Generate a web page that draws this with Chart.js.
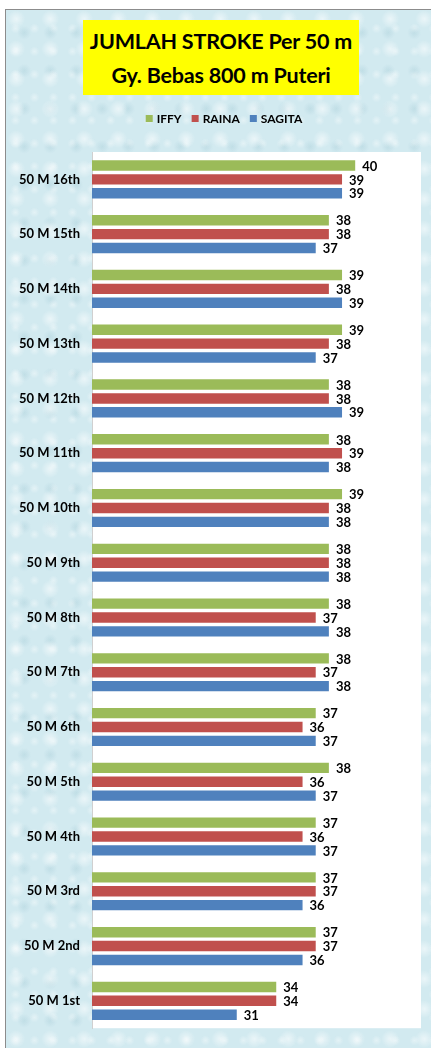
<!DOCTYPE html>
<html>
<head>
<meta charset="utf-8">
<script src="https://cdn.jsdelivr.net/npm/chart.js@4.4.1/dist/chart.umd.min.js"></script>
<style>
	body { margin: 0; width: 431px; height: 1048px; background: #fff; position: relative; overflow: hidden; }
	#frame {
		position: absolute; left: 5px; top: 9px; width: 426px; height: 1039px;
		border-left: 1px solid #8c8c8c; border-top: 1px solid #8c8c8c;
		background-color: #d2eaf0;
		background-image:
			radial-gradient(circle at 30% 30%, rgba(255,255,255,0.55) 0, rgba(255,255,255,0) 9px),
			radial-gradient(circle at 70% 60%, rgba(160,200,212,0.35) 0, rgba(160,200,212,0) 7px),
			radial-gradient(circle at 50% 80%, rgba(255,255,255,0.4) 0, rgba(255,255,255,0) 5px);
		background-size: 34px 30px, 26px 38px, 19px 23px;
	}
	#title {
		position: absolute; left: 83px; top: 20px; width: 276px; height: 75px;
		background: #ffff00; color: #000;
		font-family: Lato, sans-serif; font-weight: bold; font-size: 21.5px;
		line-height: 34px; text-align: center; padding-top: 4px; box-sizing: border-box;
		white-space: nowrap; letter-spacing: -0.2px;
	}
	canvas { position: absolute; left: 0; top: 0; }
</style>
</head>
<body>
<div id="frame"></div>
<div id="title">JUMLAH STROKE Per 50 m<br>Gy. Bebas 800 m Puteri</div>
<canvas id="strokeChart" width="431" height="1048"></canvas>
<script>
// Data (top row = 16th lap)
const categories = [
	'50 M 16th', '50 M 15th', '50 M 14th', '50 M 13th',
	'50 M 12th', '50 M 11th', '50 M 10th', '50 M 9th',
	'50 M 8th', '50 M 7th', '50 M 6th', '50 M 5th',
	'50 M 4th', '50 M 3rd', '50 M 2nd', '50 M 1st',
];
const iffy = [40, 38, 39, 39, 38, 38, 39, 38, 38, 38, 37, 38, 37, 37, 37, 34];
const raina = [39, 38, 38, 38, 38, 39, 38, 38, 37, 37, 36, 36, 36, 37, 37, 34];
const sagita = [39, 37, 39, 37, 39, 38, 38, 38, 38, 38, 37, 37, 37, 36, 36, 31];

const FONT = 'Lato, sans-serif';

// White plot area behind the bars
const plotBackground = {
	id: 'plotBackground',
	beforeDraw(chart) {
		const { ctx, chartArea: a } = chart;
		ctx.save();
		ctx.fillStyle = '#ffffff';
		ctx.fillRect(a.left, a.top, a.right - a.left, a.bottom - a.top);
		ctx.restore();
	},
};

// Value labels at the end of each bar
const barValues = {
	id: 'barValues',
	afterDatasetsDraw(chart) {
		const ctx = chart.ctx;
		ctx.save();
		ctx.font = 'bold 13px ' + FONT;
		ctx.fillStyle = '#000';
		ctx.textAlign = 'left';
		ctx.textBaseline = 'middle';
		chart.data.datasets.forEach((ds, i) => {
			chart.getDatasetMeta(i).data.forEach((bar, j) => {
				ctx.fillText(ds.data[j], bar.x + 7, bar.y + 1);
			});
		});
		ctx.restore();
	},
};

// Legend drawn above the plot, centred
const topLegend = {
	id: 'topLegend',
	afterDraw(chart) {
		const ctx = chart.ctx;
		const y = 119;
		ctx.save();
		ctx.font = 'bold 12px ' + FONT;
		ctx.textBaseline = 'middle';
		const items = chart.data.datasets.map((ds) => ({
			text: ds.label,
			color: ds.backgroundColor,
			w: 7 + 4 + ctx.measureText(ds.label).width,
		}));
		const gap = 10;
		const total = items.reduce((s, it) => s + it.w, 0) + gap * (items.length - 1);
		let x = 224 - total / 2;
		items.forEach((it) => {
			ctx.fillStyle = it.color;
			ctx.fillRect(x, y - 4, 7, 7);
			ctx.fillStyle = '#000';
			ctx.fillText(it.text, x + 11, y);
			x += it.w + gap;
		});
		ctx.restore();
	},
};

const ctx = document.getElementById('strokeChart').getContext('2d');
const strokeChart = new Chart(ctx, {
	type: 'bar',
	data: {
		labels: categories,
		datasets: [
			{ label: 'IFFY', data: iffy, backgroundColor: '#9bbb59' },
			{ label: 'RAINA', data: raina, backgroundColor: '#c0504d' },
			{ label: 'SAGITA', data: sagita, backgroundColor: '#4f81bd' },
		],
	},
	options: {
		indexAxis: 'y',
		responsive: false,
		animation: false,
		devicePixelRatio: 1,
		layout: {
			padding: { top: 152, right: 10, bottom: 12, left: 0 },
		},
		datasets: {
			bar: {
				categoryPercentage: 0.76,
				barPercentage: 0.75,
			},
		},
		scales: {
			x: {
				display: false,
				min: 20,
				max: 45,
			},
			y: {
				afterFit: (scale) => {
					scale.width = 92;
				},
				grid: { display: false, drawTicks: false },
				border: { display: true, color: '#d0d0d0' },
				ticks: {
					padding: 12,
					color: '#000',
					font: { family: FONT, weight: 'bold', size: 13 },
				},
			},
		},
		plugins: {
			legend: { display: false },
			title: { display: false },
			tooltip: { enabled: false },
		},
	},
	plugins: [plotBackground, barValues, topLegend],
});
</script>
</body>
</html>
